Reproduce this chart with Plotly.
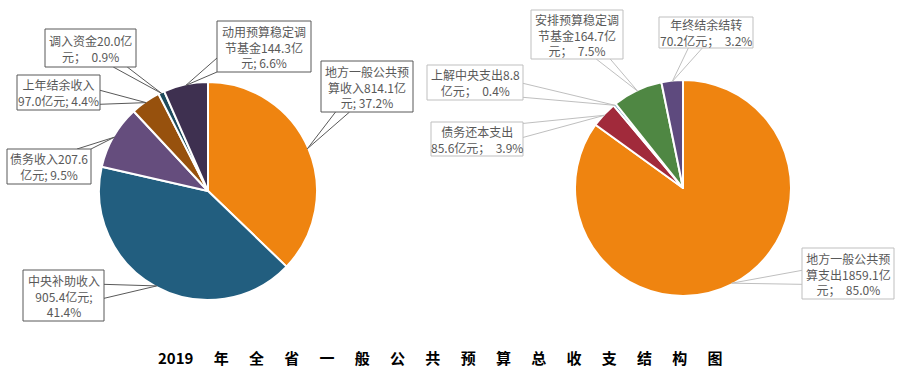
import math
import plotly.graph_objects as go

W, H = 900, 372

# ---- data ----
rev_labels = ["地方一般公共预算收入", "中央补助收入", "债务收入", "上年结余收入", "调入资金", "动用预算稳定调节基金"]
rev_values = [814.1, 905.4, 207.6, 97.0, 20.0, 144.3]
rev_pcts = [37.2, 41.4, 9.5, 4.4, 0.9, 6.6]
rev_colors = ["#EF8410", "#225E7F", "#654D7D", "#97510D", "#1D4B5C", "#3E3050"]

exp_labels = ["地方一般公共预算支出", "债务还本支出", "上解中央支出", "安排预算稳定调节基金", "年终结余结转"]
exp_values = [1859.1, 85.6, 8.8, 164.7, 70.2]
exp_pcts = [85.0, 3.9, 0.4, 7.5, 3.2]
exp_colors = ["#EF8410", "#A12A3B", "#3D7CA8", "#4F8743", "#5E4A7E"]

title_text = "2019 年 全 省 一 般 公 共 预 算 总 收 支 结 构 图"

# label texts (line breaks as in the reference callouts)
NB = "\u00a0"
rev_texts = [
    "地方一般公共预<br>算收入814.1亿<br>元; 37.2%",
    "中央补助收入<br>905.4亿元;<br>41.4%",
    "债务收入207.6<br>亿元; 9.5%",
    "上年结余收入<br>97.0亿元; 4.4%",
    "调入资金20.0亿<br>元；" + NB * 2 + "0.9%",
    "动用预算稳定调<br>节基金144.3亿<br>元; 6.6%",
]
exp_texts = [
    "地方一般公共预<br>算支出1859.1亿<br>元；" + NB * 2 + "85.0%",
    "债务还本支出<br>85.6亿元；" + NB * 2 + "3.9%",
    "上解中央支出8.8<br>亿元；" + NB * 2 + "0.4%",
    "安排预算稳定调<br>节基金164.7亿<br>元；" + NB * 2 + "7.5%",
    "年终结余结转<br>70.2亿元；" + NB * 2 + "3.2%",
]

# ---- layout geometry (pixels) ----
left_pie = dict(cx=208, cy=191, r=109)
right_pie = dict(cx=683, cy=188, r=108)

rev_boxes = [
    (321, 61, 413, 112),
    (23, 270, 104, 321),
    (7, 149, 91, 184),
    (17, 75, 100, 110),
    (45, 29, 136, 67),
    (217, 21, 311, 72),
]
exp_boxes = [
    (802, 248, 894, 299),
    (431, 122, 523, 156),
    (427, 65, 523, 100),
    (531, 10, 623, 59),
    (659, 17, 753, 48),
]


def px(x, y):
    return x / W, 1 - y / H


def domain(p):
    x0, y1 = px(p["cx"] - p["r"], p["cy"] - p["r"])
    x1, y0 = px(p["cx"] + p["r"], p["cy"] + p["r"])
    return dict(x=[x0, x1], y=[y0, y1])


fig = go.Figure()
for labels, values, colors, p in [
    (rev_labels, rev_values, rev_colors, left_pie),
    (exp_labels, exp_values, exp_colors, right_pie),
]:
    fig.add_trace(go.Pie(
        labels=labels, values=values, sort=False, direction="clockwise", rotation=0,
        marker=dict(colors=colors, line=dict(color="white", width=2)),
        textinfo="none", hoverinfo="label+value+percent", domain=domain(p),
        showlegend=False,
    ))

shapes = []
annotations = []


def anchors(values, p):
    tot = sum(values)
    cum = 0
    out = []
    for v in values:
        th = math.radians(360 * (cum + v / 2) / tot)
        cum += v
        rr = p["r"] * 0.99
        out.append((p["cx"] + rr * math.sin(th), p["cy"] - rr * math.cos(th)))
    return out


def callout(box, anchor, text, line_color, half=7):
    x0, y0, x1, y1 = box
    ax, ay = anchor
    cx, cy = (x0 + x1) / 2, (y0 + y1) / 2
    dx, dy = ax - cx, ay - cy
    tx = (x1 - x0) / 2 / abs(dx) if dx else 1e9
    ty = (y1 - y0) / 2 / abs(dy) if dy else 1e9
    if tx < ty:
        ex = x1 if dx > 0 else x0
        ey = min(max(cy + dy * tx, y0 + half), y1 - half)
        p1, p2 = (ex, ey - half), (ex, ey + half)
    else:
        ey = y1 if dy > 0 else y0
        ex = min(max(cx + dx * ty, x0 + half), x1 - half)
        p1, p2 = (ex - half, ey), (ex + half, ey)
    a, b, c = px(*p1), px(ax, ay), px(*p2)
    shapes.append(dict(type="path", xref="paper", yref="paper", layer="above",
                       path=f"M {a[0]},{a[1]} L {b[0]},{b[1]} L {c[0]},{c[1]}",
                       line=dict(color=line_color, width=1)))
    bx0, by1 = px(x0, y0)
    bx1, by0 = px(x1, y1)
    shapes.append(dict(type="rect", xref="paper", yref="paper", layer="above",
                       x0=bx0, x1=bx1, y0=by0, y1=by1, fillcolor="white",
                       line=dict(color=line_color, width=1)))
    mx, my = px(cx, cy)
    annotations.append(dict(x=mx, y=my, xref="paper", yref="paper", text=text,
                            showarrow=False, xanchor="center", yanchor="middle",
                            align="center",
                            font=dict(family="Noto Sans CJK SC", size=12, color="#595959")))


for box, anc, t in zip(rev_boxes, anchors(rev_values, left_pie), rev_texts):
    callout(box, anc, t, "#595959")
for box, anc, t in zip(exp_boxes, anchors(exp_values, right_pie), exp_texts):
    callout(box, anc, t, "#BFBFBF")

# title with wide letter spacing
sep = " \u3000\u200a\u200a"
spaced_title = sep.join(title_text.split(" "))
tx, ty = px(440, 357)
annotations.append(dict(x=tx, y=ty, xref="paper", yref="paper", text="<b>" + spaced_title + "</b>",
                        showarrow=False, xanchor="center", yanchor="middle",
                        font=dict(family="Noto Sans CJK SC", size=15, color="#000000")))

fig.update_layout(width=W, height=H, margin=dict(l=0, r=0, t=0, b=0),
                  paper_bgcolor="white", plot_bgcolor="white",
                  shapes=shapes, annotations=annotations)

fig.write_html("out.html")
